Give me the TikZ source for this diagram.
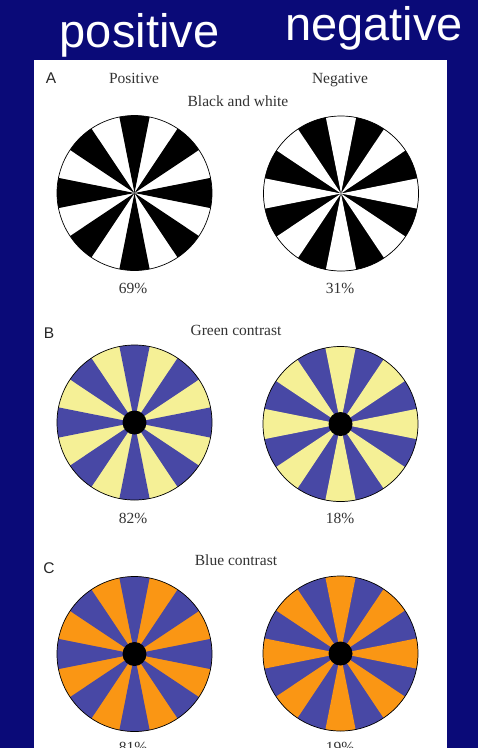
\documentclass[tikz,border=0pt]{standalone}
\usepackage{fontspec}
\setmainfont{Liberation Serif}
\newfontfamily\arialfont{Liberation Sans}
\definecolor{navybg}{RGB}{10,10,120}
\definecolor{wblue}{RGB}{72,72,165}
\definecolor{wyellow}{RGB}{245,240,150}
\definecolor{worange}{RGB}{250,150,20}
\newcommand\spokewheel[5]{%
  % #1 name, #2 center, #3 colour on axes, #4 colour between, #5 dot (1/0)
  \coordinate (#1) at (#2);
  \fill[#4] (#1) circle[radius=77.5];
  \foreach \k in {0,...,7}{%
    \fill[#3] (#1) -- ++(\k*45-11.25:77.5) arc[start angle=\k*45-11.25, end angle=\k*45+11.25, radius=77.5] -- cycle;
  }
  \draw[black, line width=0.7pt] (#1) circle[radius=77.5];
  \ifnum#5=1 \fill[black] (#1) circle[radius=12];\fi
}
\begin{document}
\begin{tikzpicture}[x=1pt,y=-1pt,
  lbl/.style={font=\fontsize{15.5}{18}\selectfont, text=black!80, anchor=base, inner sep=0pt},
  letter/.style={font=\arialfont\fontsize{15.5}{18}\selectfont, text=black!85, anchor=base, inner sep=0pt},
  title/.style={font=\arialfont\fontsize{47}{52}\selectfont, text=white, anchor=base, inner sep=0pt}]
\useasboundingbox (0,0) rectangle (478,748);
\fill[navybg] (0,0) rectangle (478,748);
\fill[white] (34,60) rectangle (447,760);
\node[title] (tpos) at (139.5,47) {positive};
\node[title] (tneg) at (374,40) {negative};
\node[letter] (la) at (51,83) {A};
\node[letter] (lb) at (49,338) {B};
\node[letter] (lc) at (49,573) {C};
\node[lbl] (hpos) at (134,83) {Positive};
\node[lbl] (hneg) at (340,83) {Negative};
\node[lbl] (hbw) at (238,106) {Black and white};
\node[lbl] (hgc) at (236,335) {Green contrast};
\node[lbl] (hbc) at (236,565) {Blue contrast};
\spokewheel{w1}{134.5,193}{black}{white}{0}
\spokewheel{w2}{341,193.5}{white}{black}{0}
\spokewheel{w3}{134.5,422.5}{wblue}{wyellow}{1}
\spokewheel{w4}{340.5,424}{wyellow}{wblue}{1}
\spokewheel{w5}{134.5,654}{wblue}{worange}{1}
\spokewheel{w6}{340.5,653.5}{worange}{wblue}{1}
\node[lbl] (p1) at (133,293) {69\%};
\node[lbl] (p2) at (340,293) {31\%};
\node[lbl] (p3) at (133,523) {82\%};
\node[lbl] (p4) at (340,523) {18\%};
\node[lbl] (p5) at (133,752) {81\%};
\node[lbl] (p6) at (340,752) {19\%};
\end{tikzpicture}
\end{document}
